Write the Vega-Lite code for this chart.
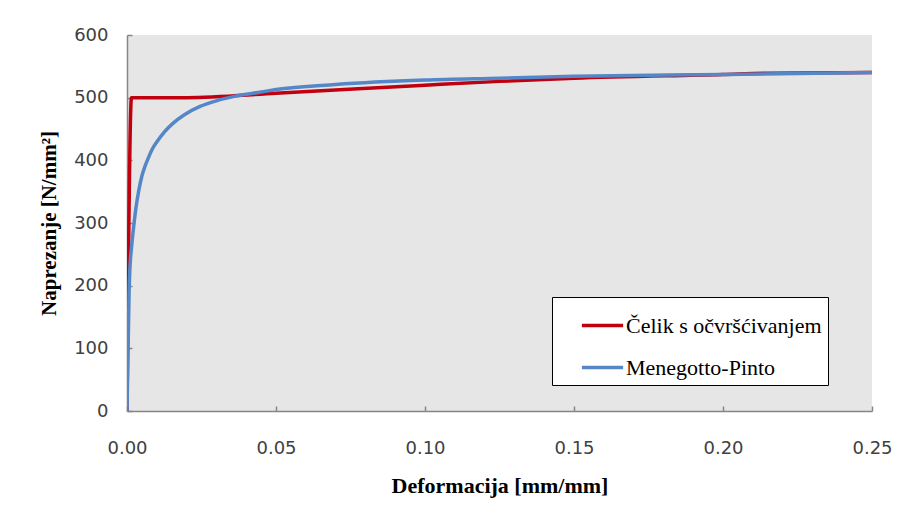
{
  "$schema": "https://vega.github.io/schema/vega-lite/v6.json",
  "width": 745,
  "height": 376,
  "autosize": "none",
  "padding": {"left": 127, "top": 35, "right": 31, "bottom": 108},
  "background": "white",
  "data": {
    "values": [
      {"e": 0, "s": 0, "k": "Čelik s očvršćivanjem"},
      {"e": 0.0015, "s": 500, "k": "Čelik s očvršćivanjem"},
      {"e": 0.02, "s": 500, "k": "Čelik s očvršćivanjem"},
      {"e": 0.05, "s": 507, "k": "Čelik s očvršćivanjem"},
      {"e": 0.1, "s": 520, "k": "Čelik s očvršćivanjem"},
      {"e": 0.125, "s": 526, "k": "Čelik s očvršćivanjem"},
      {"e": 0.15, "s": 531, "k": "Čelik s očvršćivanjem"},
      {"e": 0.2, "s": 537, "k": "Čelik s očvršćivanjem"},
      {"e": 0.215, "s": 539, "k": "Čelik s očvršćivanjem"},
      {"e": 0.25, "s": 540, "k": "Čelik s očvršćivanjem"},
      {"e": 0, "s": 0, "k": "Menegotto-Pinto"},
      {"e": 0.0004, "s": 110, "k": "Menegotto-Pinto"},
      {"e": 0.0007, "s": 190, "k": "Menegotto-Pinto"},
      {"e": 0.001, "s": 230, "k": "Menegotto-Pinto"},
      {"e": 0.0015, "s": 260, "k": "Menegotto-Pinto"},
      {"e": 0.002, "s": 284, "k": "Menegotto-Pinto"},
      {"e": 0.003, "s": 324, "k": "Menegotto-Pinto"},
      {"e": 0.004, "s": 353, "k": "Menegotto-Pinto"},
      {"e": 0.005, "s": 375, "k": "Menegotto-Pinto"},
      {"e": 0.006, "s": 390, "k": "Menegotto-Pinto"},
      {"e": 0.007, "s": 402, "k": "Menegotto-Pinto"},
      {"e": 0.0085, "s": 418, "k": "Menegotto-Pinto"},
      {"e": 0.0104, "s": 432, "k": "Menegotto-Pinto"},
      {"e": 0.0125, "s": 445, "k": "Menegotto-Pinto"},
      {"e": 0.0154, "s": 459, "k": "Menegotto-Pinto"},
      {"e": 0.019, "s": 472, "k": "Menegotto-Pinto"},
      {"e": 0.0245, "s": 486, "k": "Menegotto-Pinto"},
      {"e": 0.03, "s": 495, "k": "Menegotto-Pinto"},
      {"e": 0.036, "s": 502, "k": "Menegotto-Pinto"},
      {"e": 0.045, "s": 509, "k": "Menegotto-Pinto"},
      {"e": 0.05, "s": 513, "k": "Menegotto-Pinto"},
      {"e": 0.07, "s": 521, "k": "Menegotto-Pinto"},
      {"e": 0.1, "s": 528, "k": "Menegotto-Pinto"},
      {"e": 0.125, "s": 531, "k": "Menegotto-Pinto"},
      {"e": 0.15, "s": 534, "k": "Menegotto-Pinto"},
      {"e": 0.2, "s": 537, "k": "Menegotto-Pinto"},
      {"e": 0.25, "s": 540, "k": "Menegotto-Pinto"}
    ]
  },
  "mark": {"type": "line", "strokeWidth": 3.5, "interpolate": "monotone", "clip": true},
  "encoding": {
    "x": {
      "field": "e", "type": "quantitative",
      "scale": {"domain": [0, 0.25], "nice": false, "zero": false},
      "axis": {
        "title": "Deformacija [mm/mm]",
        "values": [0, 0.05, 0.1, 0.15, 0.2, 0.25],
        "format": ".2f",
        "grid": false,
        "labelFlush": false,
        "tickSize": -5,
        "labelPadding": 33,
        "titlePadding": 18,
        "titleFontSize": 22
      }
    },
    "y": {
      "field": "s", "type": "quantitative",
      "scale": {"domain": [0, 600], "nice": false},
      "axis": {
        "title": "Naprezanje [N/mm²]",
        "values": [0, 100, 200, 300, 400, 500, 600],
        "grid": false,
        "labelFlush": false,
        "tickSize": -5,
        "labelPadding": 24,
        "titlePadding": 14,
        "titleFontSize": 21
      }
    },
    "color": {
      "field": "k", "type": "nominal",
      "scale": {"domain": ["Čelik s očvršćivanjem", "Menegotto-Pinto"], "range": ["#c0000f", "#5587c8"]},
      "legend": {
        "title": null,
        "orient": "none",
        "legendX": 425,
        "legendY": 262,
        "direction": "vertical",
        "fillColor": "white",
        "strokeColor": "black",
        "padding": 6,
        "symbolOffset": 22,
        "symbolType": "stroke",
        "symbolSize": 1700,
        "symbolStrokeWidth": 3.5,
        "labelFont": "Liberation Serif",
        "labelFontSize": 22,
        "labelColor": "black",
        "labelOffset": 1,
        "rowPadding": 8,
        "labelLimit": 400
      }
    }
  },
  "config": {
    "view": {"fill": "#e6e6e6", "stroke": null},
    "axis": {
      "domainColor": "#868686",
      "domainWidth": 1.5,
      "tickColor": "#868686",
      "tickWidth": 1.5,
      "labelFont": "DejaVu Sans",
      "labelFontSize": 18,
      "labelColor": "#404040",
      "titleFont": "Liberation Serif",
      "titleFontWeight": "bold",
      "titleColor": "black"
    }
  }
}
